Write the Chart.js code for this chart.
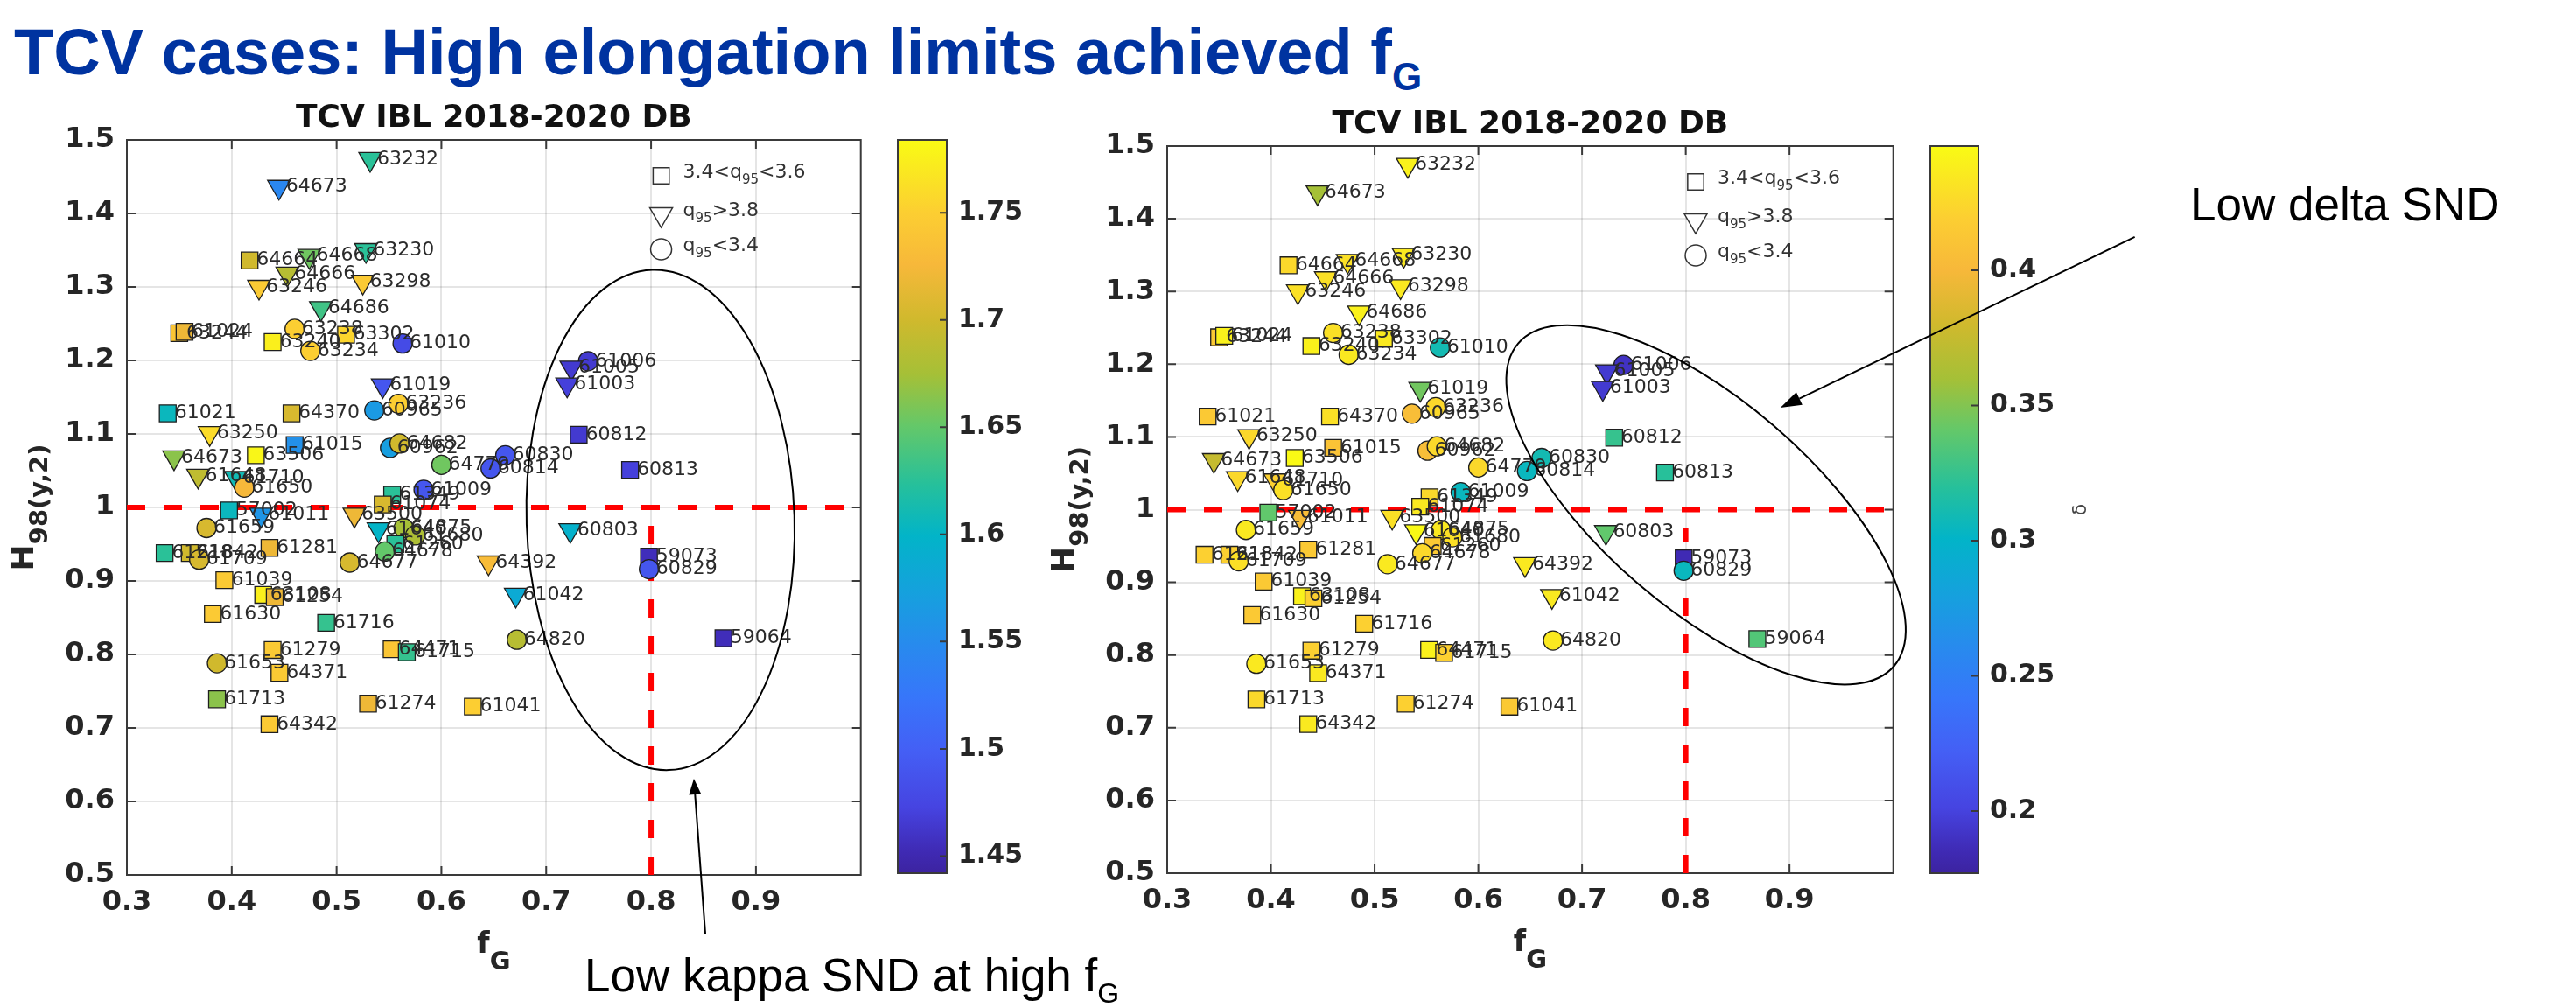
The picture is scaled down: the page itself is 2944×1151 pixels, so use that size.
<!DOCTYPE html>
<html>
<head>
<meta charset="utf-8">
<script src="https://cdn.jsdelivr.net/npm/chart.js@4.4.1/dist/chart.umd.min.js"></script>
<style>
  html, body { margin: 0; padding: 0; background: #fff; }
  #page { position: relative; width: 2944px; height: 1151px; overflow: hidden; background: #fff; }
  #page canvas { position: absolute; }
  .txt { position: absolute; white-space: nowrap; line-height: 1; }
  #mainTitle { left: 16px; top: 17px; font: bold 74px 'Liberation Sans', Arial, sans-serif; color: #0033a0; }
  #mainTitle .sub { font-size: 44px; position: relative; top: 18px; }
  .note { font: 53px 'Liberation Sans', Arial, sans-serif; color: #000; }
  .note .sub { font-size: 32px; position: relative; top: 13px; }
</style>
</head>
<body>
<div id="page">
  <div id="mainTitle" class="txt">TCV cases: High elongation limits achieved f<span class="sub">G</span></div>
  <canvas id="scatterK" width="1000" height="1051" style="left:0;top:100px"></canvas>
  <canvas id="cbarK" width="180" height="1051" style="left:1000px;top:100px"></canvas>
  <canvas id="scatterD" width="1000" height="1051" style="left:1180px;top:100px"></canvas>
  <canvas id="cbarD" width="260" height="1051" style="left:2180px;top:100px"></canvas>
  <canvas id="overlay" width="2944" height="1151" style="left:0;top:0"></canvas>
  <div class="txt note" style="left:668px;top:1084px">Low kappa SND at high f<span class="sub">G</span></div>
  <div class="txt note" style="left:2503px;top:203px">Low delta SND</div>
</div>
<script>
/* ============================================================
   DATA (same shots in both)
============================================================ */
const shots = ['63232','64673','64664','64668','63230','64666','63246','63298','64686','63244',
  '61024','63238','63302','63240','63234','61010','61006','61005','61003','61019',
  '61021','64370','60965','63236','63250','61015','60962','64682','64673','63506',
  '64779','60830','60814','60812','60813','61648','61710','61650','61009','61349',
  '61074','57002','61011','63500','61659','61640','64875','61680','61260','64678',
  '61218','61842','61709','61281','64677','64392','60803','59073','60829','61039',
  '63108','61254','61042','61630','61716','64820','59064','61279','64471','61715',
  '61653','64371','61713','61274','61041','64342'];
const fG = [0.532,0.445,0.417,0.474,0.528,0.453,0.426,0.525,0.485,0.350,
  0.355,0.460,0.509,0.439,0.475,0.563,0.740,0.724,0.720,0.544,
  0.339,0.457,0.536,0.559,0.379,0.460,0.551,0.560,0.345,0.423,
  0.600,0.661,0.647,0.731,0.780,0.368,0.404,0.412,0.583,0.553,
  0.544,0.3975,0.428,0.517,0.376,0.540,0.564,0.575,0.556,0.546,
  0.336,0.360,0.369,0.436,0.5125,0.645,0.723,0.798,0.798,0.393,
  0.430,0.441,0.671,0.382,0.490,0.672,0.869,0.439,0.5525,0.567,
  0.386,0.4455,0.386,0.530,0.630,0.436];
const H98 = [1.474,1.436,1.336,1.342,1.350,1.318,1.300,1.307,1.271,1.237,
  1.239,1.243,1.235,1.225,1.213,1.223,1.199,1.190,1.167,1.166,
  1.128,1.128,1.132,1.141,1.101,1.085,1.081,1.087,1.068,1.071,
  1.058,1.071,1.053,1.099,1.051,1.043,1.040,1.027,1.024,1.017,
  1.004,0.996,0.990,0.990,0.972,0.970,0.972,0.962,0.950,0.940,
  0.938,0.938,0.929,0.945,0.925,0.925,0.969,0.933,0.916,0.901,
  0.881,0.878,0.881,0.855,0.843,0.820,0.822,0.806,0.807,0.803,
  0.788,0.775,0.739,0.733,0.729,0.705];
// s: 3.4<q95<3.6, v: q95>3.8, o: q95<3.4
const q95Class = ['v','v','s','v','v','v','v','v','v','s',
  's','o','s','s','o','o','o','v','v','v',
  's','s','o','o','v','s','o','o','v','s',
  'o','o','o','s','s','v','v','o','o','s',
  's','s','v','v','o','v','o','o','s','o',
  's','s','o','s','o','v','v','s','o','s',
  's','s','v','s','s','o','s','s','s','s',
  'o','s','s','s','s','s'];
const kappa = [1.625,1.545,1.70,1.655,1.625,1.685,1.745,1.745,1.635,1.74,
  1.72,1.75,1.755,1.775,1.75,1.48,1.465,1.465,1.47,1.49,
  1.605,1.705,1.565,1.75,1.76,1.555,1.57,1.70,1.665,1.78,
  1.655,1.49,1.49,1.465,1.47,1.69,1.61,1.725,1.49,1.625,
  1.705,1.605,1.56,1.72,1.705,1.60,1.675,1.68,1.625,1.65,
  1.625,1.70,1.705,1.72,1.705,1.73,1.595,1.455,1.49,1.745,
  1.775,1.72,1.585,1.745,1.63,1.685,1.455,1.745,1.74,1.63,
  1.70,1.745,1.665,1.72,1.75,1.745];
const delta = [0.44,0.36,0.425,0.43,0.435,0.43,0.43,0.435,0.44,0.415,
  0.44,0.43,0.435,0.44,0.435,0.31,0.19,0.195,0.195,0.345,
  0.415,0.43,0.405,0.425,0.425,0.41,0.405,0.425,0.375,0.445,
  0.425,0.31,0.305,0.325,0.32,0.425,0.42,0.43,0.305,0.425,
  0.435,0.34,0.405,0.43,0.435,0.445,0.435,0.43,0.415,0.425,
  0.42,0.42,0.43,0.415,0.435,0.435,0.34,0.185,0.305,0.415,
  0.44,0.42,0.435,0.415,0.42,0.435,0.335,0.42,0.44,0.42,
  0.435,0.435,0.425,0.42,0.415,0.435];

const xTicks = [0.3, 0.4, 0.5, 0.6, 0.7, 0.8, 0.9];
const yTicks = [0.5, 0.6, 0.7, 0.8, 0.9, 1.0, 1.1, 1.2, 1.3, 1.4, 1.5];
const kappaTicks = [1.45, 1.5, 1.55, 1.6, 1.65, 1.7, 1.75];
const deltaTicks = [0.2, 0.25, 0.3, 0.35, 0.4];
const kappaRange = [1.442, 1.784];
const deltaRange = [0.177, 0.446];

// reference limits (dashed red)
const refH98 = 1.0;
const refFG = 0.8;
const refFGTop = 0.975;

const legendLabels = [['s', ['3.4<q', '95', '<3.6']], ['v', ['q', '95', '>3.8']], ['o', ['q', '95', '<3.4']]];

// annotations, centres in data units
const ellipseKappa = { cx: 0.809, cy: 0.983, rx: 153, ry: 286, rot: -0.033 };
const ellipseDelta = { cx: 0.8195, cy: 1.0066, rx: 283, ry: 119, rot: 0.71 };
const arrowKappa = { from: [0.8517, 0.4202], to: [0.8408, 0.631] };
const arrowDelta = { from: [1.2328, 1.3749], to: [0.8912, 1.1402] };

/* ============================================================
   COLORMAP (parula-like, as on the colorbars)
============================================================ */
const cmapStops = [
  [0.00, [60, 35, 160]], [0.03, [63, 42, 180]], [0.09, [70, 68, 225]], [0.167, [68, 95, 245]],
  [0.24, [55, 118, 250]], [0.31, [40, 138, 238]], [0.38, [22, 160, 222]], [0.46, [2, 180, 200]],
  [0.53, [38, 192, 155]], [0.61, [100, 200, 105]], [0.68, [165, 192, 55]], [0.755, [208, 185, 45]],
  [0.83, [247, 184, 58]], [0.9, [252, 206, 50]], [1.0, [249, 251, 20]]
];
function cmap(v, lo, hi) {
  const t = Math.min(1, Math.max(0, (v - lo) / (hi - lo)));
  for (let i = 1; i < cmapStops.length; i++) {
    const [t0, c0] = cmapStops[i - 1];
    const [t1, c1] = cmapStops[i];
    if (t <= t1) {
      const k = (t - t0) / (t1 - t0);
      return 'rgb(' + c0.map((c, j) => Math.round(c + (c1[j] - c) * k)).join(',') + ')';
    }
  }
  return 'rgb(249,251,20)';
}

const fmt = v => String(Math.round(v * 100) / 100);
const INK = '#262626';
const FRAME = '#3a3a3a';
const styleOf = { s: 'rect', v: 'triangle', o: 'circle' };
const radiusOf = { s: 13.5, v: 15, o: 11 };

Chart.defaults.animation = false;
Chart.defaults.font.family = "'DejaVu Sans', sans-serif";

function drawMarker(ctx, kind, x, y, r) {
  const opts = { pointStyle: styleOf[kind], rotation: kind === 'v' ? 180 : 0, radius: r, borderWidth: 1.5 };
  if (Chart.helpers && Chart.helpers.drawPoint) { Chart.helpers.drawPoint(ctx, opts, x, y); return; }
  ctx.beginPath();
  if (kind === 'o') ctx.arc(x, y, r, 0, Math.PI * 2);
  else if (kind === 's') { const h = r * Math.SQRT1_2; ctx.rect(x - h, y - h, 2 * h, 2 * h); }
  else { ctx.moveTo(x, y + r); ctx.lineTo(x - r * 0.866, y - r / 2); ctx.lineTo(x + r * 0.866, y - r / 2); ctx.closePath(); }
  ctx.fill(); ctx.stroke();
}

function drawSubText(ctx, parts, x, y, size, subSize, shift, weight) {
  let cx = x;
  parts.forEach((p, i) => {
    const isSub = i % 2 === 1;
    ctx.font = `${weight || ''} ${isSub ? subSize : size}px 'DejaVu Sans'`;
    ctx.fillText(p, cx, isSub ? y + shift : y);
    cx += ctx.measureText(p).width;
  });
  return cx - x;
}
function measureSubText(ctx, parts, size, subSize, weight) {
  let w = 0;
  parts.forEach((p, i) => {
    ctx.font = `${weight || ''} ${i % 2 ? subSize : size}px 'DejaVu Sans'`;
    w += ctx.measureText(p).width;
  });
  return w;
}

/* ============================================================
   SCATTER PANEL
============================================================ */
function makeScatter(id, values, range, area) {
  const canvas = document.getElementById(id);
  const W = canvas.width, H = canvas.height;

  const decor = {
    id: 'decor',
    beforeDatasetsDraw(chart) {
      const { ctx, chartArea: a, scales: { x, y } } = chart;
      ctx.save();
      // frame + inward ticks
      ctx.strokeStyle = FRAME; ctx.lineWidth = 2;
      ctx.strokeRect(a.left, a.top, a.right - a.left, a.bottom - a.top);
      ctx.beginPath();
      xTicks.forEach(v => {
        const px = x.getPixelForValue(v);
        ctx.moveTo(px, a.bottom); ctx.lineTo(px, a.bottom - 10);
        ctx.moveTo(px, a.top); ctx.lineTo(px, a.top + 10);
      });
      yTicks.forEach(v => {
        const py = y.getPixelForValue(v);
        ctx.moveTo(a.left, py); ctx.lineTo(a.left + 10, py);
        ctx.moveTo(a.right, py); ctx.lineTo(a.right - 10, py);
      });
      ctx.stroke();
      // red dashed limits
      ctx.beginPath(); ctx.rect(a.left, a.top, a.right - a.left, a.bottom - a.top); ctx.clip();
      ctx.strokeStyle = '#ff0000'; ctx.lineWidth = 6; ctx.setLineDash([21, 21]);
      ctx.beginPath();
      ctx.moveTo(a.left, y.getPixelForValue(refH98)); ctx.lineTo(a.right, y.getPixelForValue(refH98));
      ctx.stroke();
      ctx.beginPath();
      ctx.moveTo(x.getPixelForValue(refFG), a.bottom); ctx.lineTo(x.getPixelForValue(refFG), y.getPixelForValue(refFGTop));
      ctx.stroke();
      ctx.restore();
    },
    afterDatasetsDraw(chart) {
      const { ctx, chartArea: a } = chart;
      ctx.save();
      // shot labels
      ctx.font = "22px 'DejaVu Sans'"; ctx.fillStyle = '#2b2b2b';
      ctx.textAlign = 'left'; ctx.textBaseline = 'middle';
      chart.getDatasetMeta(0).data.forEach((pt, i) => ctx.fillText(shots[i], pt.x + 8, pt.y));
      // legend
      const lx = a.left + 0.728 * (a.right - a.left);
      const dys = [41, 85, 125];
      ctx.fillStyle = '#fff'; ctx.strokeStyle = '#333'; ctx.lineWidth = 1.5;
      legendLabels.forEach(([kind], i) => drawMarker(ctx, kind, lx, a.top + dys[i], kind === 's' ? 13 : kind === 'v' ? 15 : 12));
      ctx.fillStyle = '#333'; ctx.textBaseline = 'alphabetic';
      legendLabels.forEach(([, parts], i) => drawSubText(ctx, parts, lx + 25, a.top + dys[i] + 2, 22, 15, 7));
      // panel title
      ctx.fillStyle = '#111'; ctx.textAlign = 'center';
      ctx.font = "bold 36px 'DejaVu Sans'";
      ctx.fillText('TCV IBL 2018-2020 DB', (a.left + a.right) / 2, a.top - 15);
      // x label f_G
      ctx.fillStyle = INK; ctx.textAlign = 'left';
      const xp = ['f', 'G'];
      const xw = measureSubText(ctx, xp, 33, 29, 'bold');
      drawSubText(ctx, xp, (a.left + a.right) / 2 - xw / 2, a.bottom + 89, 33, 29, 19, 'bold');
      // y label H_98(y,2)
      const yp = ['H', '98(y,2)'];
      const yw = measureSubText(ctx, yp, 36, 29, 'bold');
      ctx.translate(a.left - 107, (a.top + a.bottom) / 2);
      ctx.rotate(-Math.PI / 2);
      drawSubText(ctx, yp, -yw / 2, 0, 36, 29, 16, 'bold');
      ctx.restore();
    }
  };

  return new Chart(canvas, {
    type: 'scatter',
    data: {
      datasets: [{
        data: fG.map((v, i) => ({ x: v, y: H98[i] })),
        pointStyle: c => styleOf[q95Class[c.dataIndex]],
        pointRotation: c => q95Class[c.dataIndex] === 'v' ? 180 : 0,
        pointRadius: c => radiusOf[q95Class[c.dataIndex]],
        pointBackgroundColor: c => cmap(values[c.dataIndex], range[0], range[1]),
        pointBorderColor: '#1f1f1f',
        pointBorderWidth: 1.3,
        clip: false
      }]
    },
    options: {
      responsive: false,
      events: [],
      layout: { padding: { left: 0, top: area.top, right: W - area.right, bottom: 0 } },
      plugins: { legend: { display: false }, tooltip: { enabled: false } },
      scales: {
        x: {
          type: 'linear', min: 0.3, max: 1.0,
          afterBuildTicks: s => { s.ticks = xTicks.map(v => ({ value: v })); },
          afterFit: s => { s.height = H - area.bottom; },
          ticks: { callback: fmt, color: INK, padding: 12, maxRotation: 0, autoSkip: false,
                   font: { size: 32, weight: 'bold', lineHeight: 1.2 } },
          grid: { color: 'rgba(0,0,0,0.1)', lineWidth: 2, drawTicks: false },
          border: { display: false }
        },
        y: {
          type: 'linear', min: 0.5, max: 1.5,
          afterBuildTicks: s => { s.ticks = yTicks.map(v => ({ value: v })); },
          afterFit: s => { s.width = area.left; },
          ticks: { callback: fmt, color: INK, padding: 14, autoSkip: false,
                   font: { size: 32, weight: 'bold', lineHeight: 1.2 } },
          grid: { color: 'rgba(0,0,0,0.1)', lineWidth: 2, drawTicks: false },
          border: { display: false }
        }
      }
    },
    plugins: [decor]
  });
}

/* ============================================================
   COLORBAR
============================================================ */
function makeColorbar(id, range, ticks, area, label) {
  const canvas = document.getElementById(id);
  const W = canvas.width, H = canvas.height;
  const bar = {
    id: 'bar',
    beforeDatasetsDraw(chart) {
      const { ctx, chartArea: a, scales: { y } } = chart;
      ctx.save();
      const g = ctx.createLinearGradient(0, a.bottom, 0, a.top);
      cmapStops.forEach(([t, c]) => g.addColorStop(t, `rgb(${c.join(',')})`));
      ctx.fillStyle = g;
      ctx.fillRect(a.left, a.top, a.right - a.left, a.bottom - a.top);
      ctx.strokeStyle = FRAME; ctx.lineWidth = 2;
      ctx.strokeRect(a.left, a.top, a.right - a.left, a.bottom - a.top);
      ctx.beginPath();
      ticks.forEach(v => { const py = y.getPixelForValue(v); ctx.moveTo(a.right, py); ctx.lineTo(a.right - 8, py); });
      ctx.stroke();
      if (label) {
        ctx.fillStyle = '#444'; ctx.font = "22px 'DejaVu Sans'";
        ctx.textAlign = 'center'; ctx.textBaseline = 'middle';
        ctx.translate(a.right + 117, (a.top + a.bottom) / 2);
        ctx.rotate(-Math.PI / 2);
        ctx.fillText(label, 0, 0);
      }
      ctx.restore();
    }
  };
  return new Chart(canvas, {
    type: 'scatter',
    data: { datasets: [{ data: [] }] },
    options: {
      responsive: false,
      events: [],
      layout: { padding: { left: area.left, top: area.top, right: 0, bottom: H - area.bottom } },
      plugins: { legend: { display: false }, tooltip: { enabled: false } },
      scales: {
        x: { display: false, min: 0, max: 1 },
        y: {
          position: 'right', min: range[0], max: range[1],
          afterBuildTicks: s => { s.ticks = ticks.map(v => ({ value: v })); },
          afterFit: s => { s.width = W - area.right; },
          ticks: { callback: fmt, color: INK, padding: 13, autoSkip: false,
                   font: { size: 30, weight: 'bold', lineHeight: 1.2 } },
          grid: { display: false, drawTicks: false },
          border: { display: false }
        }
      }
    },
    plugins: [bar]
  });
}

const chartK = makeScatter('scatterK', kappa, kappaRange, { left: 145, top: 60, right: 985, bottom: 900 });
makeColorbar('cbarK', kappaRange, kappaTicks, { left: 26, top: 60, right: 82, bottom: 898 }, null);
const chartD = makeScatter('scatterD', delta, deltaRange, { left: 154, top: 67, right: 984, bottom: 898 });
makeColorbar('cbarD', deltaRange, deltaTicks, { left: 26, top: 67, right: 81, bottom: 898 }, 'δ');

/* ============================================================
   OVERLAY: ellipses + arrows
============================================================ */
function toPage(chart, fx, fy) {
  const c = chart.canvas;
  return [chart.scales.x.getPixelForValue(fx) + c.offsetLeft, chart.scales.y.getPixelForValue(fy) + c.offsetTop];
}
function drawArrow(ctx, p0, p1, len, half) {
  const ang = Math.atan2(p1[1] - p0[1], p1[0] - p0[0]);
  const bx = p1[0] - Math.cos(ang) * len, by = p1[1] - Math.sin(ang) * len;
  ctx.beginPath(); ctx.moveTo(p0[0], p0[1]); ctx.lineTo(bx, by); ctx.stroke();
  ctx.beginPath();
  ctx.moveTo(p1[0], p1[1]);
  ctx.lineTo(bx - Math.sin(ang) * half, by + Math.cos(ang) * half);
  ctx.lineTo(bx + Math.sin(ang) * half, by - Math.cos(ang) * half);
  ctx.closePath(); ctx.fill();
}
(function drawOverlay() {
  const ctx = document.getElementById('overlay').getContext('2d');
  ctx.strokeStyle = '#000'; ctx.fillStyle = '#000'; ctx.lineWidth = 2;
  [[chartK, ellipseKappa], [chartD, ellipseDelta]].forEach(([ch, e]) => {
    const [cx, cy] = toPage(ch, e.cx, e.cy);
    ctx.beginPath(); ctx.ellipse(cx, cy, e.rx, e.ry, e.rot, 0, Math.PI * 2); ctx.stroke();
  });
  drawArrow(ctx, toPage(chartK, ...arrowKappa.from), toPage(chartK, ...arrowKappa.to), 18, 7);
  drawArrow(ctx, toPage(chartD, ...arrowDelta.from), toPage(chartD, ...arrowDelta.to), 24, 8);
})();
</script>
</body>
</html>
